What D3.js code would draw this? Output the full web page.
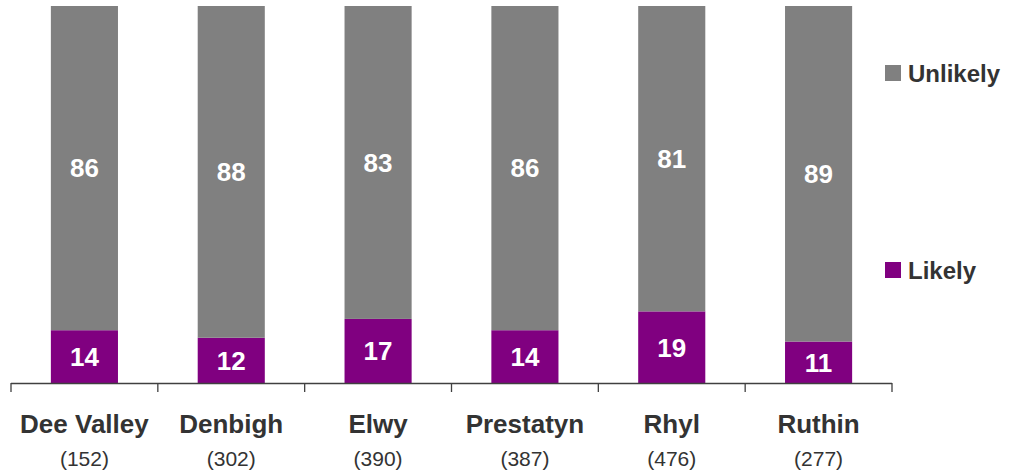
<!DOCTYPE html>
<html><head><meta charset="utf-8">
<script src="https://d3js.org/d3.v7.min.js"></script>
<style>body{margin:0;background:#fff}svg{display:block}</style>
</head><body>
<script>
const categories = ["Dee Valley","Denbigh","Elwy","Prestatyn","Rhyl","Ruthin"];
const counts = ["(152)","(302)","(390)","(387)","(476)","(277)"];
const likely = [14,12,17,14,19,11];
const unlikely = [86,88,83,86,81,89];
const seriesNames = ["Likely","Unlikely"];
const colors = {Likely:"#800080", Unlikely:"#808080"};

const W=1010,H=474;
const svg=d3.select("body").append("svg").attr("width",W).attr("height",H);
const font="Arial, 'Liberation Sans', sans-serif";

const x=d3.scaleBand().domain(categories).range([11,892]).padding(0);
const y=d3.scaleLinear().domain([0,100]).range([383,6]);
const barW=x.bandwidth()*0.457;

const rows=categories.map((c,i)=>({cat:c,Likely:likely[i],Unlikely:unlikely[i]}));
const stack=d3.stack().keys(seriesNames)(rows);

const g=svg.append("g");
stack.forEach(layer=>{
  const key=layer.key;
  layer.forEach(d=>{
    const cx=x(d.data.cat)+x.bandwidth()/2;
    g.append("rect").attr("x",cx-barW/2).attr("width",barW)
      .attr("y",y(d[1])).attr("height",y(d[0])-y(d[1])).attr("fill",colors[key]);
    g.append("text").attr("x",cx).attr("y",(y(d[0])+y(d[1]))/2)
      .attr("dy","0.36em").attr("text-anchor","middle")
      .attr("fill","#fff").attr("font-family",font).attr("font-weight","bold")
      .attr("font-size",26).text(d.data[key]);
  });
});

// axis
const ax=svg.append("g").attr("stroke","#404040").attr("stroke-width",1.3);
ax.append("line").attr("x1",x.range()[0]).attr("x2",x.range()[1]).attr("y1",383.5).attr("y2",383.5);
const edges=categories.map(c=>x(c)).concat([x.range()[1]]);
edges.forEach(e=>ax.append("line").attr("x1",e).attr("x2",e).attr("y1",383).attr("y2",392));

categories.forEach((c,i)=>{
  const cx=x(c)+x.bandwidth()/2;
  svg.append("text").attr("x",cx).attr("y",433).attr("text-anchor","middle")
    .attr("fill","#333").attr("font-family",font).attr("font-weight","bold")
    .attr("font-size",26).text(c);
  svg.append("text").attr("x",cx).attr("y",466).attr("text-anchor","middle")
    .attr("fill","#333").attr("font-family",font)
    .attr("font-size",21).text(counts[i]);
});

// legend
const legend=[{k:"Unlikely",y:65},{k:"Likely",y:262}];
legend.forEach(l=>{
  svg.append("rect").attr("x",885).attr("y",l.y).attr("width",16).attr("height",16).attr("fill",colors[l.k]);
  svg.append("text").attr("x",908).attr("y",l.y+8).attr("dy","0.36em")
    .attr("fill","#333").attr("font-family",font).attr("font-weight","bold")
    .attr("font-size",24).text(l.k);
});
</script>
</body></html>
